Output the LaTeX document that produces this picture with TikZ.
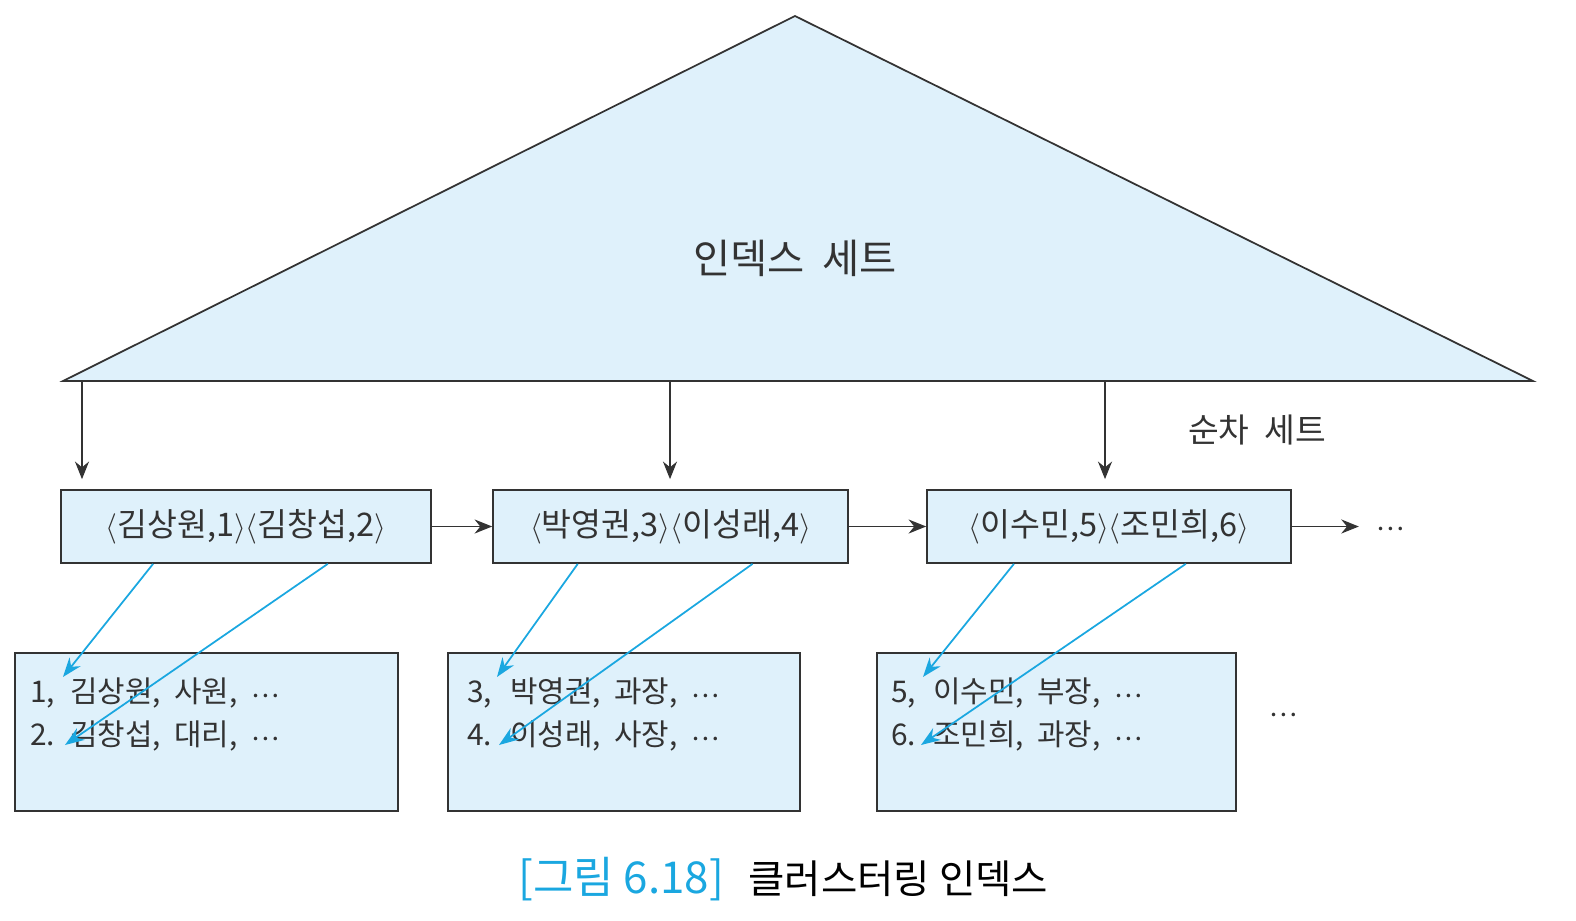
\documentclass[tikz,border=0pt]{standalone}
\usepackage{fontspec}
\setmainfont{Noto Sans CJK KR}
\usetikzlibrary{arrows.meta,calc}
\definecolor{setfill}{HTML}{DFF1FB}
\definecolor{linkblue}{HTML}{1AA7E0}
\definecolor{inkgray}{HTML}{333333}
\newcommand{\mdots}{\raisebox{0.35ex}{…}}
\tikzset{
  seqbox/.style={draw=inkgray, line width=1pt, fill=setfill, minimum height=1.46cm, inner sep=0pt, text=inkgray, font=\fontsize{18.5}{20}\selectfont},
  databox/.style={draw=inkgray, line width=1pt, fill=setfill, minimum height=3.16cm, inner sep=0pt},
  rec/.style={anchor=base west, inner sep=0pt, text=inkgray, font=\fontsize{17}{20}\selectfont},
  down/.style={draw=inkgray, line width=1pt, -{Stealth[length=10pt,width=8pt]}},
  link/.style={draw=linkblue, line width=1pt, -{Stealth[length=11pt,width=8pt]}},
}
\begin{document}
\begin{tikzpicture}[x=0.02cm,y=-0.02cm]
\useasboundingbox (0,0) rectangle (1576,920);
% 인덱스 세트 (삼각형)
\coordinate (apex) at (795,16);
\coordinate (baseL) at (63,381);
\coordinate (baseR) at (1533,381);
\filldraw[fill=setfill, draw=inkgray, line width=1pt] (apex) -- (baseL) -- (baseR) -- cycle;
\node[text=inkgray, font=\fontsize{23}{26}\selectfont] (iset) at (795,258) {인덱스\ \ 세트};
% 순차 세트
\node[text=inkgray, font=\fontsize{19}{22}\selectfont] (sset) at (1257,430) {순차\ \ 세트};
\node[seqbox, minimum width=7.4cm] (s1) at (246,526.5) {$\langle$김상원,1$\rangle\langle$김창섭,2$\rangle$};
\node[seqbox, minimum width=7.1cm] (s2) at (670.5,526.5) {$\langle$박영권,3$\rangle\langle$이성래,4$\rangle$};
\node[seqbox, minimum width=7.28cm] (s3) at (1109,526.5) {$\langle$이수민,5$\rangle\langle$조민희,6$\rangle$};
\coordinate (tail) at ($(s3.east)+(67,0)$);
\node[text=inkgray, font=\fontsize{15}{18}\selectfont] (more1) at (1390,531) {\mdots};
% 인덱스 세트 -> 순차 세트
\coordinate (p1) at (82,381);
\coordinate (p2) at (670,381);
\coordinate (p3) at (1105,381);
\draw[down, shorten >=0.2cm] (p1) -- (p1 |- s1.north);
\draw[down, shorten >=0.2cm] (p2) -- (p2 |- s2.north);
\draw[down, shorten >=0.2cm] (p3) -- (p3 |- s3.north);
% 순차 세트 연결
\draw[down] (s1) -- (s2);
\draw[down] (s2) -- (s3);
\draw[down] (s3) -- (tail);
% 데이터 블록
\node[databox, minimum width=7.66cm] (d1) at (206.5,732) {};
\node[databox, minimum width=7.04cm] (d2) at (624,732) {};
\node[databox, minimum width=7.18cm] (d3) at (1056.5,732) {};
\node[text=inkgray, font=\fontsize{15}{18}\selectfont] (more2) at (1283,717) {\mdots};
% 레코드
\node[rec] (n1) at (30,702) {1,};
\node[rec] (r1) at (70,702) {김상원,\ \ 사원,\ \ {\fontsize{15}{18}\selectfont\mdots}};
\node[rec] (n2) at (30,745) {2.};
\node[rec] (r2) at (70,745) {김창섭,\ \ 대리,\ \ {\fontsize{15}{18}\selectfont\mdots}};
\node[rec] (n3) at (467,702) {3,};
\node[rec] (r3) at (510,702) {박영권,\ \ 과장,\ \ {\fontsize{15}{18}\selectfont\mdots}};
\node[rec] (n4) at (467,745) {4.};
\node[rec] (r4) at (510,745) {이성래,\ \ 사장,\ \ {\fontsize{15}{18}\selectfont\mdots}};
\node[rec] (n5) at (891,702) {5,};
\node[rec] (r5) at (933,702) {이수민,\ \ 부장,\ \ {\fontsize{15}{18}\selectfont\mdots}};
\node[rec] (n6) at (891,745) {6.};
\node[rec] (r6) at (933,745) {조민희,\ \ 과장,\ \ {\fontsize{15}{18}\selectfont\mdots}};
% 순차 세트 -> 레코드 (파란 화살표)
\draw[link] ($(s1.south west)!0.25!(s1.south east)$) -- ([xshift=-0.14cm]r1.north west);
\draw[link] ($(s1.south west)!0.72!(s1.south east)$) -- ([xshift=-0.1cm]r2.base west);
\draw[link] ($(s2.south west)!0.24!(s2.south east)$) -- ([xshift=-0.26cm]r3.north west);
\draw[link] ($(s2.south west)!0.73!(s2.south east)$) -- ([xshift=-0.22cm]r4.base west);
\draw[link] ($(s3.south west)!0.24!(s3.south east)$) -- ([xshift=-0.2cm]r5.north west);
\draw[link] ($(s3.south west)!0.71!(s3.south east)$) -- ([xshift=-0.24cm]r6.base west);
% 캡션
\node[anchor=base west, inner sep=0pt, text=linkblue, font=\fontsize{25}{28}\selectfont] (fig) at (518,893) {[그림 6.18]};
\node[anchor=base west, inner sep=0pt, text=black, font=\fontsize{22.5}{26}\selectfont] (title) at (748,893) {클러스터링 인덱스};
\end{tikzpicture}
\end{document}
